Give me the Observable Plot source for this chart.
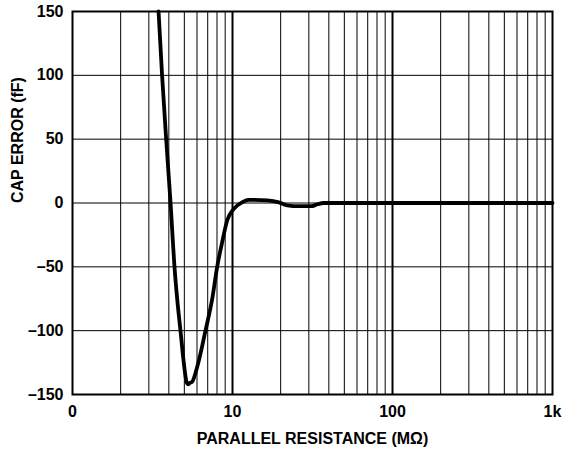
<!DOCTYPE html>
<html>
<head>
<meta charset="utf-8">
<script src="https://cdn.jsdelivr.net/npm/d3@7"></script>
<script src="https://cdn.jsdelivr.net/npm/@observablehq/plot@0.6"></script>
<style>
  html, body { margin: 0; padding: 0; background: #fff; }
</style>
</head>
<body>
<div id="chart"></div>
<script>
// Data
const resistance = [3.45, 3.63, 3.85, 4.1, 4.34, 4.51, 4.73, 4.96, 5.16, 5.3, 5.4, 5.6, 6.01, 6.78, 7.47, 8.02, 8.62, 9.26, 10.19, 11.5, 12.6, 16.5, 19.5, 22, 26, 31, 34, 37, 50, 100, 1000];
const capError   = [150, 100, 50, 0, -50, -75, -100, -125, -140, -142, -141, -140, -128.6, -100, -75, -50, -30.7, -13.7, -4.6, 0.6, 2.5, 2, 0.5, -1.8, -2.5, -2.5, -1, 0, 0, 0, 0];

const xTicks = [1, 10, 100, 1000];
const xTickLabels = ["0", "10", "100", "1k"];
const yTicks = [-150, -100, -50, 0, 50, 100, 150];
const yTickLabels = ["\u2013150", "\u2013100", "\u201350", "0", "50", "100", "150"];
const minorGrid = [2,3,4,5,6,7,8,9,20,30,40,50,60,70,80,90,200,300,400,500,600,700,800,900];
const decadeGrid = [10, 100];
const hGrid = [-100, -50, 0, 50, 100];

const xLabel = "PARALLEL RESISTANCE (M\u03A9)";
const yLabel = "CAP ERROR (fF)";

const data = resistance.map((r, i) => ({r, e: capError[i]}));

const chart = Plot.plot({
  width: 563,
  height: 452,
  marginLeft: 72,
  marginRight: 11,
  marginTop: 11,
  marginBottom: 58,
  style: {fontFamily: "'Liberation Sans', Arial, sans-serif", fontWeight: "bold", fontSize: "16px", background: "#fff", color: "#000"},
  x: {type: "log", domain: [1, 1000]},
  y: {domain: [-150, 150]},
  marks: [
    Plot.ruleX(minorGrid, {stroke: "#000", strokeWidth: 1}),
    Plot.ruleX(decadeGrid, {stroke: "#000", strokeWidth: 2}),
    Plot.ruleY(hGrid, {stroke: "#000", strokeWidth: 1}),
    Plot.frame({stroke: "#000", strokeWidth: 2}),
    Plot.line(data, {x: "r", y: "e", stroke: "#000", strokeWidth: 3.8, curve: "monotone-x"}),
    Plot.axisX({ticks: xTicks, tickSize: 0, tickPadding: 11, tickFormat: (d) => xTickLabels[xTicks.indexOf(d)], label: null, fontSize: 16}),
    Plot.axisY({ticks: yTicks, tickSize: 0, tickPadding: 9, tickFormat: (d) => yTickLabels[yTicks.indexOf(d)], label: null, fontSize: 16}),
    Plot.text([xLabel], {frameAnchor: "bottom", dy: 49, text: (d) => d, fontSize: 16, fontWeight: "bold", fill: "#000"}),
    Plot.text([yLabel], {frameAnchor: "left", dx: -54.5, rotate: -90, text: (d) => d, fontSize: 16, fontWeight: "bold", fill: "#000"})
  ]
});
document.getElementById("chart").appendChild(chart);
</script>
</body>
</html>
